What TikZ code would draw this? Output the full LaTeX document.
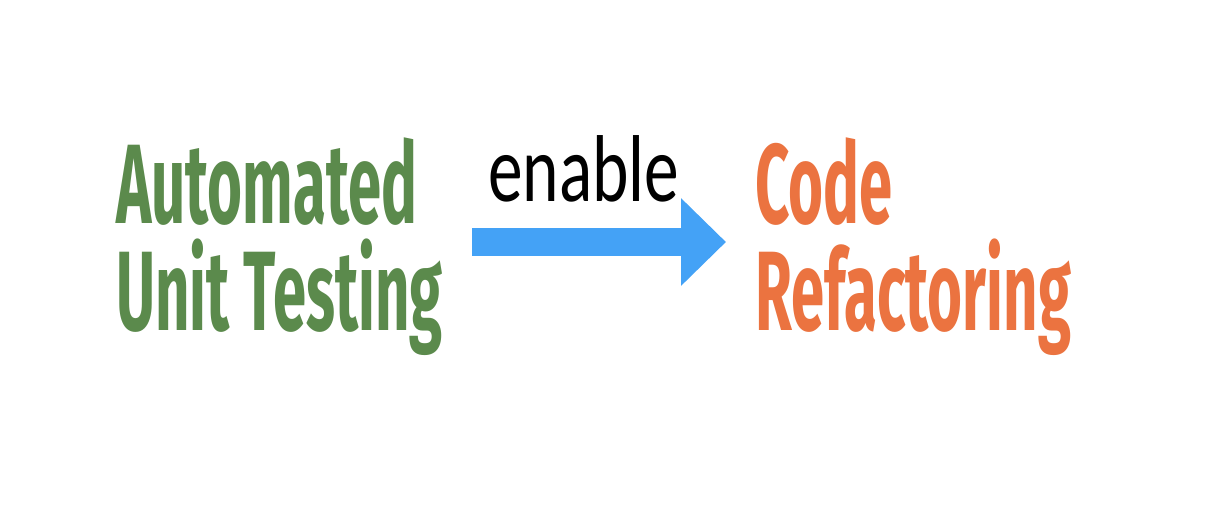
\documentclass[tikz,border=0pt]{standalone}
\usepackage{fontspec}
\usepackage{xcolor}
\usetikzlibrary{positioning,arrows.meta}
\newfontfamily\gothicfont[FakeStretch=0.53]{Fira Sans Bold}
\newfontfamily\labelfont[FakeStretch=0.73]{Carlito}
\definecolor{testgreen}{HTML}{5B8A4C}
\definecolor{refacorange}{HTML}{EB7340}
\definecolor{arrowblue}{HTML}{44A2F6}

\begin{document}
\begin{tikzpicture}[x=1pt,y=-1pt,
  bigtitle/.style={inner sep=0pt,align=left,anchor=base west,
    font=\gothicfont\fontsize{113}{107}\selectfont},
  bigarrow/.style={draw=arrowblue,line width=28pt,
    -{Triangle[length=45pt,width=85pt,fill=arrowblue]}}]
\useasboundingbox (0,0) rectangle (1208,512);
  \node[bigtitle,text=testgreen] (aut) at (116,330) {Automated\\Unit Testing};
  \node[bigtitle,text=refacorange] (cref) at (755,330) {Code\\Refactoring};
  \coordinate (tail) at (472,242);
  \coordinate (head) at (726,242);
  \draw[bigarrow] (tail) -- (head);
  \node[inner sep=0pt,anchor=base west,font=\labelfont\fontsize{95}{95}\selectfont]
    (en) at (488,201) {enable};
\end{tikzpicture}
\end{document}
